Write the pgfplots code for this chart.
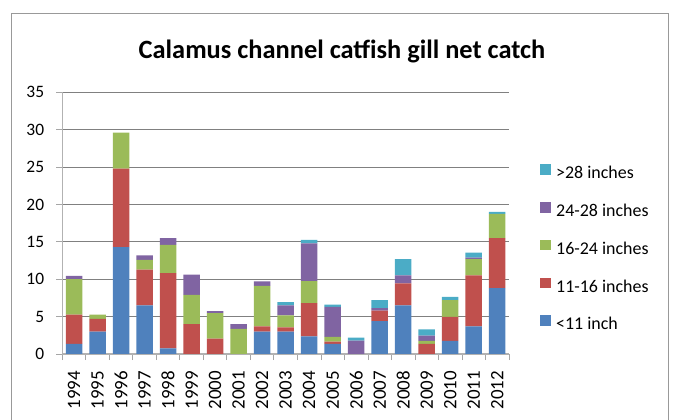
\documentclass[border=0pt]{standalone}
\usepackage{fontspec}
\setmainfont{Carlito}
\usepackage{pgfplots}
\usepackage{pgfplotstable}
\pgfplotsset{compat=1.18}
\definecolor{cA}{HTML}{4F81BD}
\definecolor{cB}{HTML}{C0504D}
\definecolor{cC}{HTML}{9BBB59}
\definecolor{cD}{HTML}{8064A2}
\definecolor{cE}{HTML}{4BACC6}
\pgfplotstableread{
x a b c d e
0 1.35 3.9 4.75 0.45 0
1 3.0 1.7 0.55 0 0
2 14.3 10.5 4.8 0 0
3 6.5 4.8 1.3 0.6 0
4 0.75 10.05 3.8 0.9 0
5 0 4.0 3.9 2.7 0
6 0 2.05 3.4 0.3 0
7 0 0 3.35 0.65 0
8 3.0 0.7 5.4 0.6 0
9 3.0 0.55 1.6 1.35 0.45
10 2.35 4.45 2.95 5.05 0.45
11 1.35 0.3 0.65 4.0 0.3
12 0 0 0 1.8 0.4
13 4.4 1.4 0 0.35 1.05
14 6.5 2.95 0 1.05 2.2
15 0 1.35 0.4 0.7 0.85
16 1.75 3.2 2.25 0 0.45
17 3.7 6.8 2.2 0.2 0.65
18 8.8 6.7 3.25 0 0.27
}\data
\begin{document}
\begin{tikzpicture}
\clip (0bp,0bp) rectangle (679bp,420bp);
\draw[color=black!40, line width=1bp] (11.5bp,-10bp) -- (11.5bp,406.5bp) -- (668.5bp,406.5bp) -- (668.5bp,-10bp);
\node[anchor=base, font=\bfseries\fontsize{26.5}{30}\selectfont] at (342bp,361.7bp) {Calamus channel catfish gill net catch};
\begin{axis}[
  at={(62.3bp,66bp)}, anchor=south west,
  scale only axis, width=446.7bp, height=261.7bp,
  ybar stacked, bar width=16.5bp,
  xmin=-0.5, xmax=18.5, ymin=0, ymax=35,
  ytick={0,5,...,35},
  xtick={0,...,18},
  xticklabels={1994,1995,1996,1997,1998,1999,2000,2001,2002,2003,2004,2005,2006,2007,2008,2009,2010,2011,2012},
  minor xtick={-0.5,0.5,...,18.5},
  axis x line*=bottom, axis y line*=left,
  axis line style={draw=black!30, line width=1.2bp},
  tick align=outside,
  major tick length=6bp, minor tick length=6bp,
  every major x tick/.append style={draw=none},
  every minor x tick/.append style={draw=black!35, line width=0.8bp},
  every major y tick/.append style={draw=black!35, line width=0.8bp},
  ymajorgrids,
  grid style={draw=black!50, line width=0.9bp},
  /pgf/number format/assume math mode=true,
  yticklabel style={font=\fontsize{17.5}{20}\selectfont, anchor=east, inner sep=0pt, xshift=-12bp},
  xticklabel shift=11bp,
  xticklabel style={font=\fontsize{19}{22}\selectfont, rotate=90, anchor=east, inner sep=0pt},
  legend image code/.code={\fill[#1] (0bp,0bp) rectangle (10.5bp,10.5bp);},
  reverse legend,
  legend cell align=left,
  legend style={draw=none, fill=none, at={(1.0694,0.726)}, anchor=north west, inner sep=0pt,
    font=\fontsize{18}{21}\selectfont, row sep=19.3bp,
    nodes={inner sep=0pt, text height=12bp, text depth=4bp},
    /tikz/every odd column/.append style={column sep=5.5bp}},
]
\addplot[fill=cA, draw=none] table[x=x, y=a] {\data};
\addplot[fill=cB, draw=none] table[x=x, y=b] {\data};
\addplot[fill=cC, draw=none] table[x=x, y=c] {\data};
\addplot[fill=cD, draw=none] table[x=x, y=d] {\data};
\addplot[fill=cE, draw=none] table[x=x, y=e] {\data};
\legend{<11 inch, 11-16 inches, 16-24 inches, 24-28 inches, >28 inches}
\end{axis}
\end{tikzpicture}
\end{document}
